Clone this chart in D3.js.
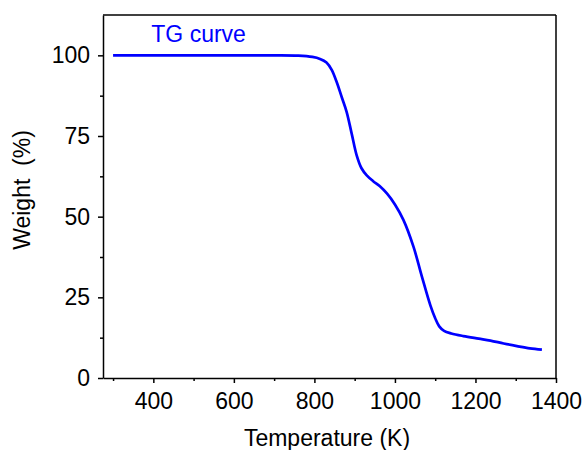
<!DOCTYPE html>
<html>
<head>
<meta charset="utf-8">
<script src="https://cdn.jsdelivr.net/npm/d3@7"></script>
<style>
  body { margin: 0; background: #fff; }
  text { font-family: "Liberation Sans", Arial, sans-serif; }
  .axis path, .axis line { stroke: #000; stroke-width: 1.5; }
  .axis text { font-size: 23px; fill: #000; }
</style>
</head>
<body>
<div id="chart"></div>
<script>
// TG curve
var temperature = [300, 440, 580, 700, 760, 795, 814, 830, 843, 856, 868, 880, 893, 905, 917, 930, 946, 962, 980, 1000,
                   1021, 1046, 1067, 1088, 1100, 1110, 1122, 1140, 1170, 1208, 1237, 1270, 1303, 1335, 1365];
var weight = [100, 100, 100, 100, 99.9, 99.5, 98.9, 97.8, 95.5, 91.5, 87, 82.5, 75.5, 69, 65, 62.8, 61, 59.5, 57.2, 53.8,
              49, 40.7, 31.4, 22.5, 18.5, 16, 14.6, 13.8, 13, 12.2, 11.6, 10.7, 9.9, 9.2, 8.8];
var xTicks = [400, 600, 800, 1000, 1200, 1400];
var xMinor = [300, 500, 700, 900, 1100, 1300];
var yTicks = [0, 25, 50, 75, 100];
var yMinor = [12.5, 37.5, 62.5, 87.5];

var svgWidth = 584;
var svgHeight = 450;
var margin = { top: 15, right: 28, bottom: 72, left: 103 };
var width = svgWidth - margin.left - margin.right;
var height = svgHeight - margin.top - margin.bottom;

var svg = d3.select("#chart")
  .append("svg")
  .attr("width", svgWidth)
  .attr("height", svgHeight);

var chartGroup = svg.append("g")
  .attr("transform", `translate(${margin.left}, ${margin.top})`);

var x = d3.scaleLinear().domain([275, 1400]).range([0, width]);
var y = d3.scaleLinear().domain([0, 112.5]).range([height, 0]);

// minor ticks first, no labels
chartGroup.append("g")
  .attr("class", "axis")
  .attr("transform", `translate(0, ${height})`)
  .call(d3.axisBottom(x).tickValues(xMinor).tickSize(3).tickFormat(""))
  .select(".domain").remove();
chartGroup.append("g")
  .attr("class", "axis")
  .call(d3.axisLeft(y).tickValues(yMinor).tickSize(3).tickFormat(""))
  .select(".domain").remove();

// major axes
chartGroup.append("g")
  .attr("class", "axis")
  .attr("transform", `translate(0, ${height})`)
  .call(d3.axisBottom(x).tickValues(xTicks).tickFormat(d3.format("d"))
    .tickSize(5).tickSizeOuter(0).tickPadding(10));

chartGroup.append("g")
  .attr("class", "axis")
  .call(d3.axisLeft(y).tickValues(yTicks).tickFormat(d3.format("d"))
    .tickSize(5).tickSizeOuter(0).tickPadding(8));

// top and right frame
chartGroup.append("line")
  .attr("x1", 0).attr("x2", width).attr("y1", 0).attr("y2", 0)
  .attr("stroke", "#000").attr("stroke-width", 1.5);
chartGroup.append("line")
  .attr("x1", width).attr("x2", width).attr("y1", 0).attr("y2", height)
  .attr("stroke", "#000").attr("stroke-width", 1.5);

var line = d3.line()
  .x(d => x(d[0]))
  .y(d => y(d[1]))
  .curve(d3.curveCatmullRom.alpha(0.5));

chartGroup.append("path")
  .datum(d3.zip(temperature, weight))
  .attr("fill", "none")
  .attr("stroke", "#0000ff")
  .attr("stroke-width", 2.7)
  .attr("d", line);

chartGroup.append("text")
  .attr("x", x(395))
  .attr("y", 27)
  .attr("fill", "#0000ff")
  .style("font-size", "23px")
  .text("TG curve");

// axis labels
svg.append("text")
  .attr("x", 327)
  .attr("y", 446)
  .attr("text-anchor", "middle")
  .style("font-size", "23px")
  .text("Temperature (K)");

svg.append("text")
  .attr("transform", "translate(30, 190) rotate(-90)")
  .attr("text-anchor", "middle")
  .style("font-size", "23px")
  .style("white-space", "pre")
  .attr("xml:space", "preserve")
  .text("Weight  (%)");
</script>
</body>
</html>
